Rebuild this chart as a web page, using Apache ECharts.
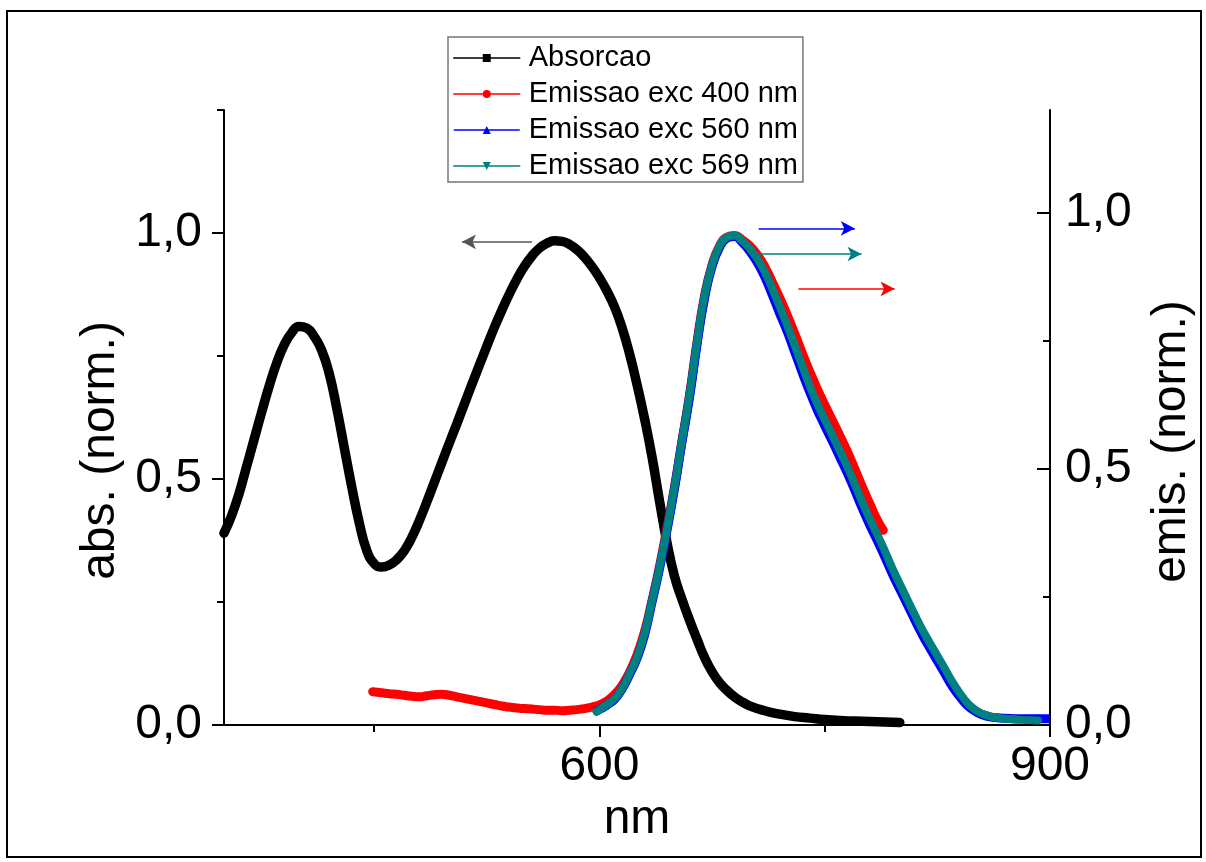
<!DOCTYPE html>
<html>
<head>
<meta charset="utf-8">
<script src="https://cdn.jsdelivr.net/npm/echarts@6/dist/echarts.min.js"></script>
<style>
html,body{margin:0;padding:0;background:#fff;}
#chart{width:1206px;height:862px;}
</style>
</head>
<body>
<div id="chart"></div>
<script>
// ---- data ----
const seriesNames = ['Absorcao', 'Emissao exc 400 nm', 'Emissao exc 560 nm', 'Emissao exc 569 nm'];

const absX = [350,355,360,365,370,375,380,385,390,395,400,405,410,415,420,425,430,435,440,445,450,455,460,465,470,475,480,485,490,495,500,505,510,515,520,525,530,535,540,545,550,555,560,565,570,575,580,585,590,595,600,605,610,615,620,625,630,635,640,645,650,655,660,665,670,675,680,685,690,695,700,710,720,730,740,750,760,770,780,790,800];
const absY = [0.39,0.425,0.47,0.525,0.58,0.635,0.688,0.735,0.772,0.797,0.81,0.807,0.79,0.762,0.715,0.645,0.565,0.485,0.412,0.355,0.328,0.321,0.325,0.336,0.354,0.381,0.415,0.453,0.493,0.533,0.573,0.612,0.652,0.692,0.731,0.77,0.808,0.843,0.876,0.906,0.932,0.953,0.969,0.979,0.984,0.983,0.977,0.966,0.951,0.932,0.909,0.882,0.85,0.808,0.755,0.692,0.623,0.545,0.455,0.37,0.302,0.255,0.213,0.174,0.137,0.108,0.086,0.07,0.057,0.047,0.039,0.029,0.022,0.017,0.014,0.011,0.009,0.008,0.007,0.006,0.005];

const em400X = [449,455,460,465,470,475,480,485,490,495,500,505,510,515,520,525,530,535,540,545,550,555,560,565,570,575,580,585,590,595,600,605,610,615,620,625,630,635,640,645,650,655,660,665,670,675,680,685,690,695,700,705,710,715,720,725,730,735,740,745,750,755,760,765,770,775,780,785,789];
const em400Y = [0.065,0.063,0.061,0.06,0.058,0.056,0.055,0.057,0.059,0.06,0.058,0.055,0.052,0.049,0.046,0.043,0.04,0.037,0.035,0.033,0.032,0.031,0.03,0.029,0.029,0.028,0.029,0.03,0.032,0.035,0.039,0.047,0.059,0.077,0.103,0.137,0.182,0.243,0.31,0.385,0.465,0.555,0.645,0.748,0.838,0.898,0.935,0.952,0.955,0.947,0.935,0.918,0.895,0.865,0.834,0.8,0.764,0.726,0.69,0.656,0.625,0.595,0.565,0.534,0.5,0.465,0.432,0.4,0.38];

const em560X = [597,600,605,610,615,620,625,630,635,640,645,650,655,660,665,670,675,680,685,690,695,700,705,710,715,720,725,730,735,740,745,750,755,760,765,770,775,780,785,790,795,800,805,810,815,820,825,830,835,840,845,850,855,860,865,870,880,890,900];
const em560Y = [0.026,0.03,0.039,0.05,0.07,0.098,0.13,0.175,0.24,0.305,0.38,0.462,0.553,0.64,0.743,0.833,0.895,0.932,0.95,0.953,0.942,0.925,0.903,0.875,0.84,0.803,0.768,0.728,0.688,0.65,0.615,0.584,0.554,0.523,0.492,0.458,0.423,0.39,0.36,0.328,0.295,0.265,0.235,0.205,0.176,0.15,0.125,0.1,0.075,0.055,0.038,0.027,0.02,0.016,0.014,0.013,0.012,0.012,0.012];

const em569X = [598,600,605,610,615,620,625,630,635,640,645,650,655,660,665,670,675,680,685,690,695,700,705,710,715,720,725,730,735,740,745,750,755,760,765,770,775,780,785,790,795,800,805,810,815,820,825,830,835,840,845,850,855,860,865,870,880,892];
const em569Y = [0.026,0.03,0.04,0.051,0.071,0.1,0.132,0.178,0.242,0.308,0.383,0.465,0.556,0.645,0.748,0.838,0.898,0.935,0.952,0.955,0.945,0.93,0.91,0.885,0.852,0.817,0.78,0.741,0.701,0.662,0.627,0.596,0.566,0.535,0.504,0.47,0.435,0.402,0.372,0.34,0.306,0.275,0.245,0.215,0.186,0.16,0.135,0.11,0.084,0.062,0.043,0.03,0.022,0.017,0.014,0.012,0.01,0.009];

const xTicksMajor = [600, 900];
const xTicksMinor = [450, 750];
const yLeftMajor = [0, 0.5, 1.0];
const yLeftMinor = [0.25, 0.75, 1.25];
const yRightMajor = [0, 0.5, 1.0];
const yRightMinor = [0.25, 0.75];

// annotation arrows: [xStart, xEnd, y]
const arrowAbs = [555, 508.5, 0.982];
const arrow560 = [706, 770, 0.969];
const arrow569 = [706, 774.5, 0.919];
const arrow400 = [732.5, 796.5, 0.851];

// ---- chart ----
const pairs = (xs, ys) => xs.map((x, i) => [x, ys[i]]);
const FONT = '"Liberation Sans", Arial, sans-serif';
const fmt = v => v.toFixed(1).replace('.', ',');

function arrowLine(a, color, headColor) {
  return {
    silent: true,
    symbol: ['none', 'arrow'],
    symbolSize: [11, 14],
    label: { show: false },
    emphasis: { disabled: true },
    lineStyle: { color: color, width: 1.5, type: 'solid' },
    itemStyle: { color: headColor || color },
    data: [[{ coord: [a[0], a[2]], itemStyle: { color: headColor || color } }, { coord: [a[1], a[2]], itemStyle: { color: headColor || color } }]]
  };
}

const chart = echarts.init(document.getElementById('chart'), null, { renderer: 'canvas' });
const axisLineStyle = { color: '#000', width: 2 };

chart.setOption({
  animation: false,
  backgroundColor: '#fff',
  textStyle: { fontFamily: FONT },
  graphic: [{
    type: 'rect', silent: true,
    shape: { x: 7, y: 11, width: 1194, height: 846 },
    style: { fill: 'none', stroke: '#000', lineWidth: 2 }
  }],
  grid: { left: 224, right: 156, top: 110, bottom: 137, containLabel: false },
  legend: {
    orient: 'vertical',
    left: 448, top: 37,
    padding: [6, 5, 1, 5],
    itemGap: 6,
    itemWidth: 66, itemHeight: 10,
    borderColor: '#777', borderWidth: 1.5,
    backgroundColor: '#fff',
    data: seriesNames,
    lineStyle: { width: 1.5 },
    textStyle: { fontSize: 29, lineHeight: 30, color: '#000', fontFamily: FONT, padding: [0, 0, 0, 4] }
  },
  xAxis: [{
    type: 'value', min: 350, max: 900, position: 'bottom',
    name: 'nm', nameLocation: 'middle', nameGap: 53,
    nameTextStyle: { fontSize: 48, color: '#000', fontFamily: FONT },
    axisLine: { show: true, onZero: false, lineStyle: axisLineStyle },
    axisTick: { show: true, length: 12, lineStyle: { color: '#000', width: 2 }, customValues: xTicksMajor },
    axisLabel: { show: true, fontSize: 48, color: '#000', margin: 18, customValues: xTicksMajor, formatter: v => String(Math.round(v)) },
    splitLine: { show: false }
  }, {
    type: 'value', min: 350, max: 900, position: 'bottom',
    axisLine: { show: false, onZero: false },
    axisTick: { show: true, length: 7, lineStyle: { color: '#000', width: 2 }, customValues: xTicksMinor },
    axisLabel: { show: false },
    splitLine: { show: false }
  }],
  yAxis: [{
    type: 'value', min: 0, max: 1.25, position: 'left',
    name: 'abs. (norm.)', nameLocation: 'middle', nameRotate: 90, nameGap: 79,
    nameTextStyle: { fontSize: 48, color: '#000', fontFamily: FONT, padding: [0, 66, 0, 0] },
    axisLine: { show: true, lineStyle: axisLineStyle },
    axisTick: { show: true, length: 12, lineStyle: { color: '#000', width: 2 }, customValues: yLeftMajor },
    axisLabel: { show: true, fontSize: 48, color: '#000', margin: 22, customValues: yLeftMajor, formatter: fmt },
    splitLine: { show: false }
  }, {
    type: 'value', min: 0, max: 1.2, position: 'right',
    name: 'emis. (norm.)', nameLocation: 'middle', nameRotate: 90, nameGap: 98,
    nameTextStyle: { fontSize: 48, color: '#000', fontFamily: FONT, padding: [0, 48, 0, 0] },
    axisLine: { show: true, lineStyle: axisLineStyle },
    axisTick: { show: true, inside: true, length: 13, lineStyle: { color: '#000', width: 2 }, customValues: yRightMajor },
    axisLabel: { show: true, fontSize: 48, color: '#000', margin: 15, customValues: yRightMajor, formatter: fmt },
    splitLine: { show: false }
  }, {
    type: 'value', min: 0, max: 1.25, position: 'left',
    axisLine: { show: false },
    axisTick: { show: true, length: 7, lineStyle: { color: '#000', width: 2 }, customValues: yLeftMinor },
    axisLabel: { show: false },
    splitLine: { show: false }
  }, {
    type: 'value', min: 0, max: 1.2, position: 'right',
    axisLine: { show: false },
    axisTick: { show: true, inside: true, length: 7, lineStyle: { color: '#000', width: 2 }, customValues: yRightMinor },
    axisLabel: { show: false },
    splitLine: { show: false }
  }],
  series: [{
    name: seriesNames[0], type: 'line', xAxisIndex: 0, yAxisIndex: 0,
    data: pairs(absX, absY), smooth: 0.5,
    symbol: 'rect', showSymbol: false, symbolSize: 8,
    color: '#000',
    lineStyle: { color: '#000', width: 9.5, cap: 'round', join: 'round' },
    z: 2,
    markLine: arrowLine(arrowAbs, '#555', '#000')
  }, {
    name: seriesNames[1], type: 'line', xAxisIndex: 0, yAxisIndex: 1,
    data: pairs(em400X, em400Y), smooth: 0.5,
    symbol: 'circle', showSymbol: false, symbolSize: 9,
    color: '#ff0000',
    lineStyle: { color: '#ff0000', width: 9, cap: 'round', join: 'round' },
    z: 3,
    markLine: arrowLine(arrow400, '#ff0000')
  }, {
    name: seriesNames[2], type: 'line', xAxisIndex: 0, yAxisIndex: 1,
    data: pairs(em560X, em560Y), smooth: 0.5,
    symbol: 'triangle', showSymbol: false, symbolSize: 9,
    color: '#0000ff',
    lineStyle: { color: '#0000ff', width: 9, cap: 'butt', join: 'round' },
    z: 4,
    markLine: arrowLine(arrow560, '#0000ff')
  }, {
    name: seriesNames[3], type: 'line', xAxisIndex: 0, yAxisIndex: 1,
    data: pairs(em569X, em569Y), smooth: 0.5,
    symbol: 'path://M0,0 L10,0 L5,9 Z', showSymbol: false, symbolSize: 9,
    color: '#008080',
    lineStyle: { color: '#008080', width: 8, cap: 'round', join: 'round' },
    z: 5,
    markLine: arrowLine(arrow569, '#008080')
  }]
});
</script>
</body>
</html>
